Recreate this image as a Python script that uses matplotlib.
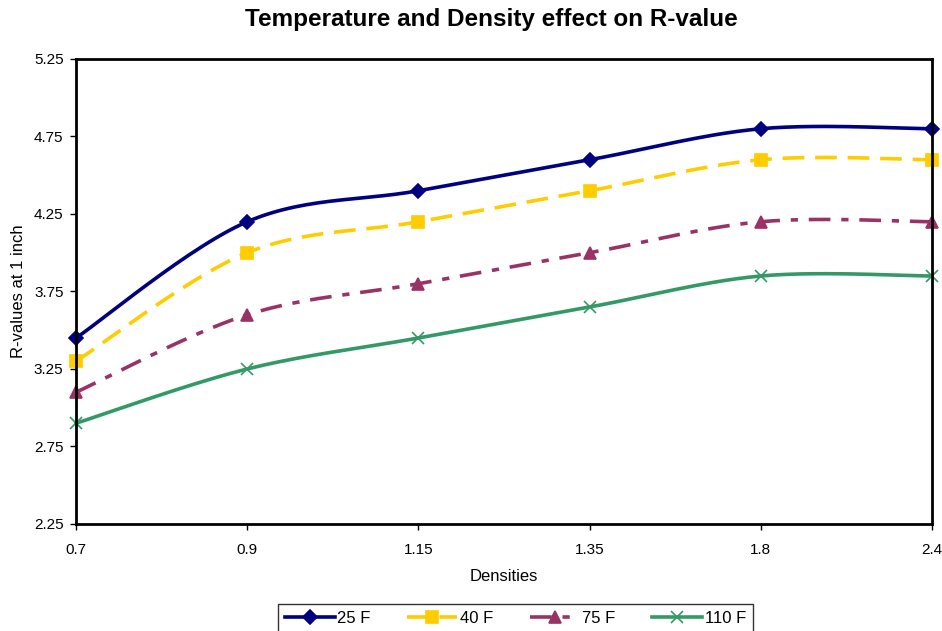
import numpy as np
import matplotlib
matplotlib.use("Agg")
import matplotlib.pyplot as plt

plt.rcParams['font.family'] = ['Liberation Sans', 'DejaVu Sans']

densities = ["0.7", "0.9", "1.15", "1.35", "1.8", "2.4"]
r_25f = [3.45, 4.20, 4.40, 4.60, 4.80, 4.80]
r_40f = [3.30, 4.00, 4.20, 4.40, 4.60, 4.60]
r_75f = [3.10, 3.60, 3.80, 4.00, 4.20, 4.20]
r_110f = [2.90, 3.25, 3.45, 3.65, 3.85, 3.85]
labels = ["25 F", "40 F", "75 F", "110 F"]
y_ticks = [2.25, 2.75, 3.25, 3.75, 4.25, 4.75, 5.25]


def smooth(x, y, n=30):
    """Catmull-Rom style smoothing like Excel's smoothed line."""
    x = np.asarray(x, float)
    y = np.asarray(y, float)
    px = np.concatenate([[x[0]], x, [x[-1]]])
    py = np.concatenate([[y[0]], y, [y[-1]]])
    xs, ys = [], []
    t = np.linspace(0, 1, n)
    for i in range(1, len(px) - 2):
        p0 = np.array([px[i], py[i]])
        p3 = np.array([px[i + 1], py[i + 1]])
        p1 = p0 + (np.array([px[i + 1], py[i + 1]]) - np.array([px[i - 1], py[i - 1]])) / 6
        p2 = p3 - (np.array([px[i + 2], py[i + 2]]) - np.array([px[i], py[i]])) / 6
        b = ((1 - t) ** 3)[:, None] * p0 + (3 * (1 - t) ** 2 * t)[:, None] * p1 \
            + (3 * (1 - t) * t ** 2)[:, None] * p2 + (t ** 3)[:, None] * p3
        xs.append(b[:, 0])
        ys.append(b[:, 1])
    return np.concatenate(xs), np.concatenate(ys)


fig = plt.figure(figsize=(9.42, 6.31), dpi=100)
ax = fig.add_axes([0.0807, 0.1696, 0.9087, 0.7369])

xi = np.arange(len(densities))
series = [
    (r_25f, '#000080', '-', 'D', 7),
    (r_40f, '#FFCC00', (0, (6, 3)), 's', 8),
    (r_75f, '#993366', (0, (6, 3, 2, 3)), '^', 9),
    (r_110f, '#339966', '-', 'x', 9),
]
handles = []
for (vals, col, ls, mk, ms), lab in zip(series, labels):
    sx, sy = smooth(xi, vals)
    ax.plot(sx, sy, color=col, linestyle=ls, linewidth=2.6, clip_on=False)
    ax.plot(xi, vals, linestyle='none', marker=mk, color=col, markersize=ms,
            markeredgewidth=1.2, clip_on=False)
    h, = ax.plot([], [], color=col, linestyle=ls, linewidth=2.6, marker=mk,
                 markersize=ms, markeredgewidth=1.2)
    handles.append(h)

ax.set_xlim(0, len(densities) - 1)
ax.set_ylim(2.25, 5.25)
ax.set_xticks(xi)
ax.set_xticklabels(densities)
ax.set_yticks(y_ticks)
ax.set_yticklabels([f"{v:.2f}" for v in y_ticks])
ax.tick_params(direction='out', length=4, width=1, labelsize=11)
ax.tick_params(axis='x', pad=10)
ax.tick_params(axis='y', pad=5)
for sp in ax.spines.values():
    sp.set_linewidth(2)
    sp.set_color('black')

ax.set_xlabel("Densities", fontsize=12, labelpad=8)
ax.set_ylabel("R-values at 1 inch", fontsize=12, labelpad=6)
fig.suptitle("Temperature and Density effect on R-value", fontsize=17.5,
             fontweight='bold', x=0.522, y=0.988)

leg = fig.legend(handles=handles, labels=labels, loc='lower center', ncol=4,
                 bbox_to_anchor=(0.547, -0.016), frameon=True, fancybox=False,
                 edgecolor='black', fontsize=12, handlelength=3.0,
                 columnspacing=2.2, borderpad=0.4, handletextpad=0.15)
leg.get_frame().set_linewidth(1)

fig.savefig("out.png", dpi=100)
